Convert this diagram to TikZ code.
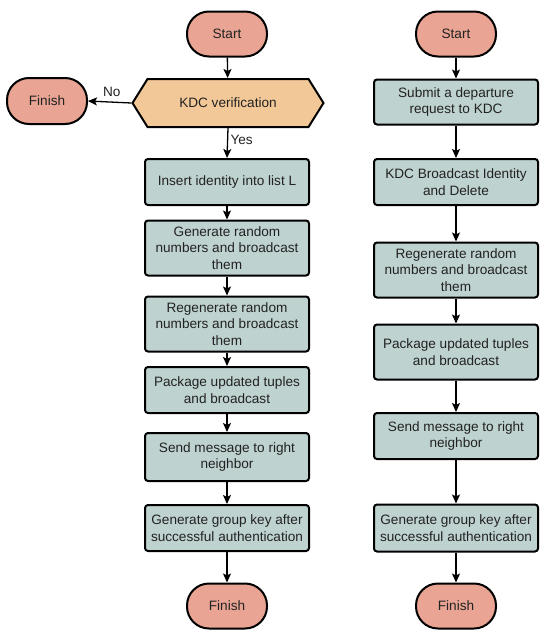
\documentclass[tikz,border=0pt]{standalone}
\usepackage{fontspec}
\setmainfont{Liberation Sans}
\usepackage{tikz}
\usetikzlibrary{arrows.meta,shapes.symbols}
\definecolor{clTerm}{HTML}{E9A493}
\definecolor{clCheck}{HTML}{F3C898}
\definecolor{clStep}{HTML}{BED2D0}
\definecolor{clText}{HTML}{222222}

\begin{document}
\begin{tikzpicture}[x=1pt,y=-1pt,
  every node/.style={font=\fontsize{13.6}{16.3}\selectfont,text=clText,align=center},
  termbox/.style={draw,line width=2pt,fill=clTerm,rounded corners=22pt,minimum width=80pt,minimum height=45pt},
  procbox/.style={draw,line width=2pt,fill=clStep,rounded corners=3pt,minimum width=164pt,minimum height=46pt,inner sep=2pt},
  decbox/.style={draw,line width=2pt,fill=clCheck,signal,signal to=west and east,signal pointer angle=116,minimum width=191pt,minimum height=48pt},
  flow/.style={line width=1.3pt,-{Stealth[length=9pt,width=8pt,inset=2pt]}}]
  \useasboundingbox (0,0) rectangle (550,637);
  % left column: joining
  \node[termbox] (lstart) at (227,34) {Start};
  \node[decbox] (verify) at (228,103) {KDC verification};
  \node[termbox,minimum height=46pt] (lfail) at (47,101) {Finish};
  \node[procbox] (insert) at (227,182) {Insert identity into list L};
  \node[procbox,minimum height=55pt] (lgen) at (227,248) {Generate random\\numbers and broadcast\\them};
  \node[procbox,minimum height=55pt] (lregen) at (227,324) {Regenerate random\\numbers and broadcast\\them};
  \node[procbox] (lpack) at (227,390) {Package updated tuples\\and broadcast};
  \node[procbox,minimum height=48pt] (lsend) at (227,457) {Send message to right\\neighbor};
  \node[procbox] (lkey) at (227,528) {Generate group key after\\successful authentication};
  \node[termbox] (lend) at (227,606) {Finish};
  \draw[flow] (lstart) -- (verify);
  \draw[flow] (verify.west) -- (lfail.east) node[pos=0.45,above,yshift=1pt] {No};
  \draw[flow] (verify.south) -- (insert.north) node[pos=0.4,right,xshift=-1pt] {Yes};
  \draw[flow] (insert) -- (lgen);
  \draw[flow] (lgen) -- (lregen);
  \draw[flow] (lregen) -- (lpack);
  \draw[flow] (lpack) -- (lsend);
  \draw[flow] (lsend) -- (lkey);
  \draw[flow] (lkey) -- (lend);
  % right column: leaving
  \node[termbox] (rstart) at (456,34) {Start};
  \node[procbox,minimum height=45pt] (rsubmit) at (456,102) {Submit a departure\\request to KDC};
  \node[procbox] (rdelete) at (456,182) {KDC Broadcast Identity\\and Delete};
  \node[procbox,minimum height=55pt] (rregen) at (456,270) {Regenerate random\\numbers and broadcast\\them};
  \node[procbox,minimum height=55pt] (rpack) at (456,352) {Package updated tuples\\and broadcast};
  \node[procbox] (rsend) at (456,436) {Send message to right\\neighbor};
  \node[procbox,minimum height=47pt] (rkey) at (456,528) {Generate group key after\\successful authentication};
  \node[termbox] (rend) at (456,606) {Finish};
  \draw[flow] (rstart) -- (rsubmit);
  \draw[flow] (rsubmit) -- (rdelete);
  \draw[flow] (rdelete) -- (rregen);
  \draw[flow] (rregen) -- (rpack);
  \draw[flow] (rpack) -- (rsend);
  \draw[flow] (rsend) -- (rkey);
  \draw[flow] (rkey) -- (rend);
\end{tikzpicture}
\end{document}
